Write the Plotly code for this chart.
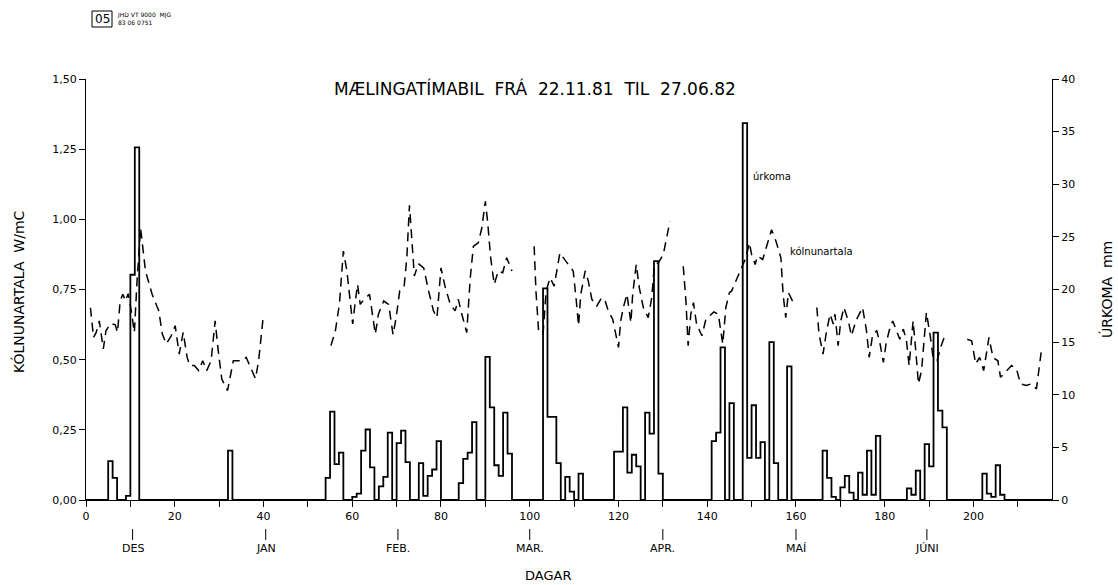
import plotly.graph_objects as go

# ---------------- data ----------------
# precipitation (úrkoma, mm) per day; days not listed are 0
rain_days = [5, 6, 9, 10, 11, 32,
             54, 55, 56, 57, 60, 61, 62, 63, 64, 66, 67, 68, 70, 71, 72,
             75, 76, 77, 78, 79, 84, 85, 86, 87, 90, 91, 92, 93, 94, 95,
             103, 104, 105, 106, 108, 109, 111,
             119, 120, 121, 122, 123, 124, 126, 127, 128, 129,
             141, 142, 143, 145, 148, 149, 150, 151, 152, 154, 155, 158,
             166, 167, 168, 170, 171, 172, 174, 175, 176, 177, 178,
             185, 186, 187, 189, 190, 191, 192, 193,
             202, 203, 204, 205, 206]
rain_mm = [3.7, 2.1, 0.4, 21.4, 33.5, 4.7,
           2.1, 8.4, 3.4, 4.5, 0.3, 0.6, 4.7, 6.7, 3.1, 1.3, 2.2, 6.4, 5.4, 6.6, 3.6,
           3.5, 0.4, 2.3, 2.9, 5.6, 1.6, 3.9, 4.5, 7.4, 13.6, 8.8, 3.3, 2.3, 8.3, 4.4,
           20.1, 7.9, 7.9, 3.5, 2.2, 0.8, 2.5,
           4.6, 4.6, 8.8, 2.6, 4.3, 3.2, 8.3, 6.3, 22.7, 2.5,
           5.6, 6.4, 14.5, 9.2, 35.8, 4.0, 9.0, 4.0, 5.5, 15.0, 3.5, 12.7,
           4.7, 2.1, 0.3, 1.2, 2.3, 0.7, 2.6, 0.5, 4.7, 0.5, 6.1,
           1.1, 0.5, 2.8, 5.3, 3.2, 15.9, 8.5, 6.9,
           2.5, 0.6, 0.3, 3.3, 0.5]
n_days = 218

# cooling power (kólnunartala, W/mC); None marks gaps in the record
cool_days = [1.0, 1.7, 2.3, 3.0, 3.9, 4.5, 5.5, 6.6, 7.1, 7.7, 8.3, 8.9, 9.5, 10.2, 10.9,
             11.5, 12.3, 13.4, 14.9, 16.4, 17.2, 18.1, 19.2, 20.1, 21.0, 21.9, 22.8, 23.4,
             24.4, 25.4, 26.3, 27.2, 28.2, 29.1, 29.8, 30.6, 31.9, 33.2, 35.0, 36.1, 38.2,
             38.9, 40.0, None,
             55.2, 56.2, 57.1, 58.0, 58.8, 59.4, 60.1, 60.7, 61.2, 61.8, 62.7, 63.9, 64.4,
             65.2, 65.9, 67.1, 68.2, 69.2, 69.9, 70.7, 71.7, 72.3, 72.9, 73.4, 74.0, 74.9,
             76.1, 77.2, 78.3, 79.1, 80.0, 80.9, 82.1, 83.2, 83.9, 84.7, 85.8, 86.6, 87.3,
             88.4, 89.2, 90.0, 90.5, 91.2, 92.0, 92.9, 93.9, 94.8, 96.0, None,
             101.0, 101.4, 102.0, 103.0, 103.7, 104.6, 105.5, 106.1, 106.8, 108.7, 109.8,
             110.5, 111.0, 111.5, 112.5, 113.2, 114.0, 115.1, 116.2, 117.0, 117.7, 118.7,
             119.5, 120.0, 120.5, 121.1, 121.9, 122.8, 123.2, 124.0, 124.7, 125.6, 126.7,
             127.5, 128.1, 129.0, 130.1, 131.6, None,
             134.6, 135.2, 135.7, 136.3, 136.9, 137.6, 138.8, 139.7, 141.5, 142.5, 143.5,
             144.2, 145.0, 145.5, 148.7, 149.5, 150.0, 150.8, 151.3, 152.5, 154.5, 155.5,
             156.6, 157.1, 157.7, 158.3, 159.4, None,
             164.7, 165.2, 166.1, 166.9, 167.7, 168.4, 168.8, 169.5, 170.1, 170.8, 171.8,
             172.5, 173.5, 175.0, 175.9, 176.5, 177.3, 178.2, 178.9, 179.7, 180.3, 181.0,
             181.8, 182.7, 183.4, 184.2, 184.9, 185.5, 186.1, 186.4, 187.0, 187.6, 188.3,
             188.8, 189.4, 190.2, 190.9, 191.8, 192.6, 193.4, None,
             198.6, 199.6, 200.5, 201.4, 202.3, 203.0, 203.5, 204.4, 205.5, 206.1, 208.6,
             209.7, 210.6, 211.9, 213.1, 214.2, 214.8, 215.3]
cool_vals = [0.685, 0.579, 0.597, 0.638, 0.538, 0.603, 0.629, 0.624, 0.597, 0.709, 0.733,
             0.709, 0.735, 0.674, 0.597, 0.780, 0.969, 0.816, 0.733, 0.674, 0.591, 0.556,
             0.585, 0.621, 0.520, 0.597, 0.508, 0.479, 0.479, 0.461, 0.496, 0.461, 0.496,
             0.638, 0.532, 0.431, 0.390, 0.496, 0.496, 0.508, 0.432, 0.496, 0.662, None,
             0.550, 0.603, 0.697, 0.887, 0.816, 0.721, 0.627, 0.709, 0.768, 0.697, 0.715,
             0.733, 0.674, 0.591, 0.662, 0.709, 0.697, 0.589, 0.650, 0.745, 0.762, 0.863,
             1.050, 0.922, 0.798, 0.842, 0.827, 0.745, 0.674, 0.650, 0.827, 0.762, 0.697,
             0.674, 0.715, 0.662, 0.597, 0.792, 0.904, 0.916, 0.969, 1.064, 0.993, 0.863,
             0.768, 0.816, 0.810, 0.863, 0.816, None,
             0.904, 0.745, 0.603, 0.591, 0.745, 0.792, 0.762, 0.816, 0.880, 0.839, 0.816,
             0.709, 0.621, 0.733, 0.816, 0.780, 0.715, 0.691, 0.721, 0.709, 0.674, 0.644,
             0.585, 0.544, 0.638, 0.686, 0.733, 0.632, 0.733, 0.839, 0.756, 0.686, 0.650,
             0.721, 0.839, 0.845, 0.875, 0.993, None,
             0.833, 0.709, 0.550, 0.662, 0.703, 0.627, 0.585, 0.644, 0.670, 0.662, 0.556,
             0.686, 0.739, 0.745, 0.863, 0.916, 0.875, 0.839, 0.869, 0.857, 0.963, 0.922,
             0.863, 0.733, 0.650, 0.739, 0.703, None,
             0.686, 0.591, 0.520, 0.603, 0.662, 0.627, 0.662, 0.550, 0.638, 0.686, 0.638,
             0.585, 0.638, 0.686, 0.603, 0.508, 0.591, 0.603, 0.561, 0.490, 0.556, 0.603,
             0.638, 0.597, 0.573, 0.609, 0.567, 0.479, 0.579, 0.638, 0.532, 0.414, 0.461,
             0.556, 0.668, 0.591, 0.508, 0.496, 0.544, 0.579, None,
             0.573, 0.567, 0.485, 0.508, 0.461, 0.532, 0.579, 0.508, 0.496, 0.437, 0.479,
             0.467, 0.414, 0.408, 0.414, 0.396, 0.461, 0.532]

x_ticks = list(range(0, 220, 10))
x_ticklabels = [str(v) if v % 20 == 0 and v <= 200 else "" for v in x_ticks]
y_ticks = [0, 0.25, 0.5, 0.75, 1.0, 1.25, 1.5]
y_ticklabels = ["0,00", "0,25", "0,50", "0,75", "1,00", "1,25", "1,50"]
y2_ticks = [0, 5, 10, 15, 20, 25, 30, 35, 40]
months = ["DES", "JAN", "FEB.", "MAR.", "APR.", "MAÍ", "JÚNI"]
month_days = [10.5, 40.5, 70.3, 100, 130, 160, 189.5]

title_text = "MÆLINGATÍMABIL  FRÁ  22.11.81  TIL  27.06.82"

# ---------------- figure ----------------
daily = [0.0] * (n_days + 1)
for d, v in zip(rain_days, rain_mm):
    daily[d] = v
day_axis = list(range(n_days + 1))

W, H = 1118, 585
L, R, T, B = 86, 66, 79, 85
pw, ph = W - L - R, H - T - B


def px(xp):
    return (xp - L) / pw


def py(yp):
    return (H - B - yp) / ph


FONT = "DejaVu Sans"
fig = go.Figure()
fig.add_trace(go.Scatter(x=day_axis, y=daily, yaxis="y2", mode="lines",
                         line=dict(shape="hv", color="black", width=1.8),
                         showlegend=False, hoverinfo="skip"))
fig.add_trace(go.Scatter(x=cool_days, y=cool_vals, mode="lines",
                         line=dict(color="black", width=1.5, dash="9px,6px"),
                         connectgaps=False, showlegend=False))


def note(text, xp, yp, size, xanchor="center", **kw):
    return dict(text=text, xref="paper", yref="paper", x=px(xp), y=py(yp),
                xanchor=xanchor, yanchor="middle", showarrow=False,
                font=dict(size=size, family=FONT, color="black"), **kw)


annotations = [
    note(title_text, 535, 89, 17),
    note("úrkoma", 751, 176, 10, xanchor="left"),
    note("kólnunartala", 788, 251, 10, xanchor="left"),
    note("KÓLNUNARTALA  W/mC", 18, 292, 14, textangle=-90),
    note("ÚRKOMA  mm", 1106, 290, 14, textangle=-90),
    note("DAGAR", 548, 575, 13),
    note("05", 102, 19, 12),
    note("JHD VT 9000  MJG<br>83 06 0751", 115, 19, 6, xanchor="left", align="left"),
]
shapes = [dict(type="rect", xref="paper", yref="paper", x0=px(92), x1=px(112),
               y0=py(11), y1=py(27), line=dict(color="black", width=1))]
for m, d in zip(months, month_days):
    annotations.append(dict(text=m, xref="x", yref="paper", x=d, y=py(548),
                            xanchor="center", yanchor="middle", showarrow=False,
                            font=dict(size=11, family=FONT, color="black")))
    shapes.append(dict(type="line", xref="x", yref="paper", x0=d, x1=d,
                       y0=py(529), y1=py(540), line=dict(color="black", width=1)))

axis_common = dict(showgrid=False, zeroline=False, showline=True, linecolor="black",
                   linewidth=1.2, ticks="outside", ticklen=6, tickcolor="black",
                   tickfont=dict(size=11, family=FONT, color="black"))
fig.update_layout(
    width=W, height=H, margin=dict(l=L, r=R, t=T, b=B),
    paper_bgcolor="white", plot_bgcolor="white",
    xaxis=dict(range=[0, 217.7], tickvals=x_ticks, ticktext=x_ticklabels, **axis_common),
    yaxis=dict(range=[0, 1.5], tickvals=y_ticks, ticktext=y_ticklabels, **axis_common),
    yaxis2=dict(range=[0, 40], tickvals=y2_ticks, overlaying="y", side="right",
                **axis_common),
    annotations=annotations, shapes=shapes, showlegend=False,
)
fig.write_html("out.html", config={"displayModeBar": False},
               post_script="document.body.style.margin='0px';")
